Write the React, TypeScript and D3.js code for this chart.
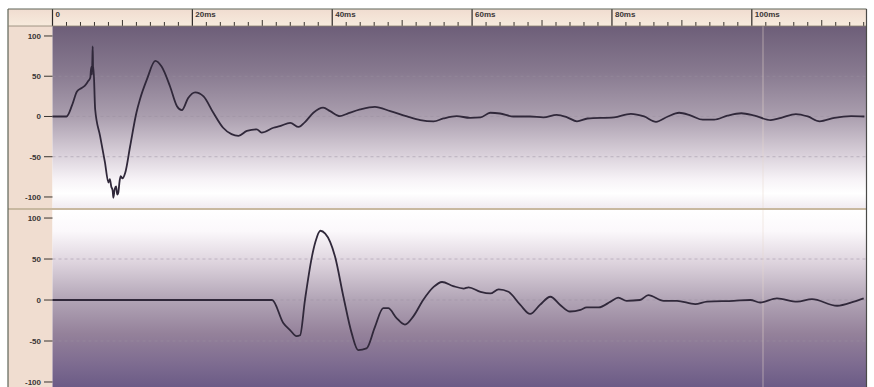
import React from 'react';
import * as d3 from 'd3';

// time axis (ms) and value ticks
const timeMajorTicks = [0, 20, 40, 60, 80, 100];
const timeMajorLabels = ['0', '20ms', '40ms', '60ms', '80ms', '100ms'];
const valueTicks = [100, 50, 0, -50, -100];
const gridValues = [50, 0, -50];
const TIME_MAX = 116.4;
const cursorMs = 101.6;

// upper trace: [ms, value]
const topTrace: [number, number][] = [
  [0, 0], [2.0, 0], [2.8, 14], [3.5, 31], [4.1, 35], [4.6, 38], [5.1, 44], [5.4, 48], [5.5, 58],
  [5.6, 62], [5.65, 52], [5.7, 70], [5.75, 87], [5.8, 60], [5.85, 62], [6.1, 9], [6.8, -24],
  [7.5, -57], [8.0, -82], [8.2, -78], [8.4, -87], [8.6, -92], [8.7, -101], [8.9, -90], [9.1, -87],
  [9.25, -97], [9.4, -95], [9.6, -80], [9.75, -74], [10.0, -77], [10.4, -70], [11.1, -37],
  [12.0, 4.6], [12.5, 21], [13.5, 46], [14.7, 69], [15.6, 62], [16.8, 37.6], [17.8, 12.8],
  [18.5, 7.9], [19.4, 23], [20.4, 30], [21.6, 25], [23.0, 4.6], [24.4, -14], [25.6, -22],
  [26.6, -24], [27.8, -18], [29.2, -16], [29.9, -20], [31.6, -14], [32.5, -12], [34.0, -8],
  [35.2, -13], [36.1, -7], [37.3, 4.6], [38.7, 11], [39.7, 6.6], [41.1, 0.4], [42.1, 3.3],
  [44.0, 8.7], [46.1, 12], [48.3, 6.6], [50.7, 0], [52.6, -4.5], [54.5, -6], [55.9, -2.5],
  [57.8, 0.4], [59.7, -1.7], [61.2, -1.2], [62.6, 4.6], [64.0, 3.7], [65.9, 0], [68.3, 0],
  [70.2, -1], [72.1, 2], [73.6, -1], [75.0, -6], [76.5, -2.5], [80.3, -1], [82.7, 3.3],
  [84.6, 0], [86.3, -6.6], [88.0, 0], [89.6, 4.6], [91.3, 1], [93.0, -4], [94.6, -4],
  [96.5, 1], [98.5, 4], [100.4, 1], [102.7, -4.5], [104.2, -1.7], [106.3, 3], [108.0, 0],
  [109.7, -6], [111.8, -1.7], [114.2, 0.4], [116.1, 0],
];

// lower trace: [ms, value]
const bottomTrace: [number, number][] = [
  [0, 0], [31.4, 0], [33.0, -28], [34.0, -37], [34.9, -44], [35.4, -43], [36.1, 0], [37.1, 53],
  [37.6, 71], [38.3, 84.5], [39.0, 81], [39.7, 71], [40.4, 53], [41.6, 4], [42.8, -41],
  [43.7, -61], [44.9, -59], [46.1, -33], [47.3, -10], [48.0, -10], [49.2, -22], [50.4, -30],
  [51.6, -20], [53.0, 0], [54.5, 16], [55.7, 22], [57.3, 17], [58.8, 14], [59.5, 15.5],
  [61.2, 10], [62.6, 8], [63.8, 13], [65.2, 10], [66.9, -6], [68.3, -17], [69.7, -6],
  [71.2, 4], [72.6, -6], [74.0, -14], [75.5, -12], [76.4, -9], [78.1, -9], [79.8, -2],
  [80.9, 3], [82.1, -1], [84.0, 0], [85.2, 6], [87.4, -1], [89.3, -1], [91.9, -5], [93.6, -2],
  [97.4, -1], [99.8, 0], [101.2, -3], [103.6, 2], [106.5, -2], [108.6, 1], [112.2, -7],
  [114.6, -2], [116.0, 2],
];

const W = 874;
const H = 387;
const left = 52.5;
const right = 866.5;
const frameLeft = 8;
const frameTop = 9;
const rulerBottom = 26;
const topPanel = { y0: 26, y1: 208 };
const botPanel = { y0: 210, y1: 387 };

const font = '"Liberation Sans", Arial, sans-serif';

export default function App() {
  const x = d3.scaleLinear().domain([0, TIME_MAX]).range([left, right]);
  const yTop = d3.scaleLinear().domain([-113.7, 112.4]).range([topPanel.y1, topPanel.y0]);
  const yBot = d3.scaleLinear().domain([-106.1, 109.8]).range([botPanel.y1, botPanel.y0]);

  const curve = d3.curveMonotoneX;
  const lineTop = d3.line<[number, number]>().x(d => x(d[0])).y(d => yTop(d[1])).curve(curve);
  const lineBot = d3.line<[number, number]>().x(d => x(d[0])).y(d => yBot(d[1])).curve(curve);

  const minorTicks = d3.range(2, TIME_MAX, 2).filter(t => t % 20 !== 0);

  const panels = [
    { y: yTop, p: topPanel, fill: 'url(#gTop)' },
    { y: yBot, p: botPanel, fill: 'url(#gBot)' },
  ];

  return (
    <svg width={W} height={H} style={{ position: 'absolute', left: 0, top: 0, background: '#fff' }}>
      <defs>
        <linearGradient id="gTop" x1="0" y1="0" x2="0" y2="1">
          <stop offset="0%" stopColor="#6d5e78" />
          <stop offset="25%" stopColor="#87798f" />
          <stop offset="50%" stopColor="#ab9faf" />
          <stop offset="70%" stopColor="#d8cfd9" />
          <stop offset="84%" stopColor="#f6f2f6" />
          <stop offset="92%" stopColor="#ffffff" />
          <stop offset="100%" stopColor="#f1ebf1" />
        </linearGradient>
        <linearGradient id="gBot" x1="0" y1="0" x2="0" y2="1">
          <stop offset="0%" stopColor="#ffffff" />
          <stop offset="12%" stopColor="#fbf8fb" />
          <stop offset="30%" stopColor="#ddd3dd" />
          <stop offset="50%" stopColor="#b3a6b7" />
          <stop offset="70%" stopColor="#94819a" />
          <stop offset="86%" stopColor="#7f6d91" />
          <stop offset="100%" stopColor="#6b5b86" />
        </linearGradient>
        <linearGradient id="gRuler" x1="0" y1="0" x2="0" y2="1">
          <stop offset="0%" stopColor="#f0dcd0" />
          <stop offset="100%" stopColor="#f7ebdd" />
        </linearGradient>
      </defs>

      {/* frame bands */}
      <rect x={frameLeft} y={frameTop} width={right - frameLeft} height={rulerBottom - frameTop} fill="url(#gRuler)" />
      <rect x={frameLeft} y={rulerBottom} width={left - frameLeft} height={H - rulerBottom} fill="#f0ddd0" />

      {/* panels */}
      {panels.map((pn, i) => (
        <g key={i}>
          <rect x={left} y={pn.p.y0} width={right - left} height={pn.p.y1 - pn.p.y0} fill={pn.fill} />
          {gridValues.map(v => (
            <line key={v} x1={left} x2={right} y1={pn.y(v)} y2={pn.y(v)}
              stroke="#9c90a2" strokeOpacity={0.5} strokeDasharray="3,3" strokeWidth={1} />
          ))}
          {valueTicks.map(v => (
            <g key={v}>
              <line x1={44} x2={left} y1={pn.y(v)} y2={pn.y(v)} stroke="#3a3530" strokeWidth={1} />
              <text x={41} y={pn.y(v)} dy="0.35em" textAnchor="end" fontFamily={font}
                fontSize={8} fontWeight="bold" fill="#3a3535">{v}</text>
            </g>
          ))}
        </g>
      ))}

      {/* cursor */}
      <line x1={x(cursorMs)} x2={x(cursorMs)} y1={rulerBottom} y2={H} stroke="#e4d8cc" strokeOpacity={0.35} strokeWidth={1.5} />

      {/* panel separator */}
      <rect x={frameLeft} y={topPanel.y1} width={right - frameLeft} height={botPanel.y0 - topPanel.y1} fill="#c8b8a0" />

      {/* traces */}
      <path d={lineTop(topTrace) ?? ''} fill="none" stroke="#30283a" strokeWidth={1.8} strokeLinejoin="round" />
      <path d={lineBot(bottomTrace) ?? ''} fill="none" stroke="#30283a" strokeWidth={1.8} strokeLinejoin="round" />

      {/* ruler */}
      {minorTicks.map(t => (
        <line key={t} x1={x(t)} x2={x(t)} y1={t % 10 === 0 ? 20 : 22} y2={rulerBottom}
          stroke="#3a3530" strokeWidth={1} />
      ))}
      {timeMajorTicks.map((t, i) => (
        <g key={t}>
          <line x1={x(t)} x2={x(t)} y1={frameTop} y2={rulerBottom} stroke="#2e2a28" strokeWidth={1.2} />
          <text x={x(t) + 3} y={17} fontFamily={font} fontSize={8} fontWeight="bold" fill="#3a3535">
            {timeMajorLabels[i]}
          </text>
        </g>
      ))}

      {/* frame lines */}
      <line x1={frameLeft} x2={right} y1={frameTop} y2={frameTop} stroke="#5e6458" strokeWidth={1.2} />
      <line x1={frameLeft} x2={frameLeft} y1={frameTop} y2={H} stroke="#5e6458" strokeWidth={1.2} />
      <line x1={frameLeft} x2={right} y1={rulerBottom} y2={rulerBottom} stroke="#8a8070" strokeWidth={0.8} />
      <line x1={right} x2={right} y1={frameTop} y2={H} stroke="#4a4a48" strokeWidth={1.2} />
    </svg>
  );
}
